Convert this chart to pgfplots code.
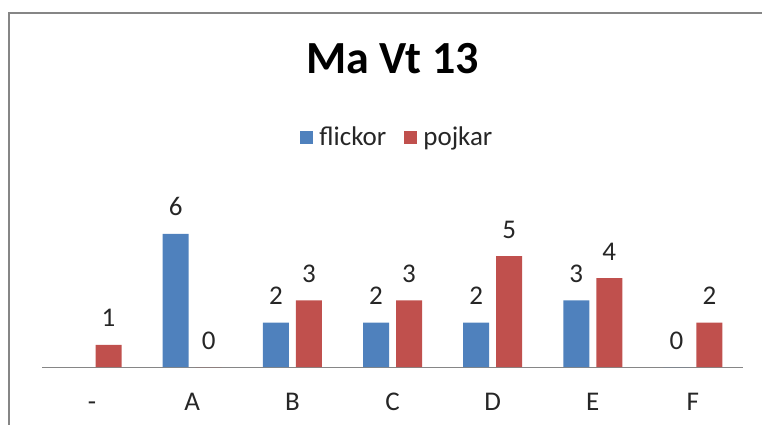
\documentclass[border=0pt]{standalone}
\usepackage{pgfplots}
\pgfplotsset{compat=1.18}
\usepackage{fontspec}
\setmainfont{Carlito}
\definecolor{cblue}{HTML}{4F81BD}
\definecolor{cred}{HTML}{C0504D}
\definecolor{framec}{HTML}{868686}
\definecolor{txt}{HTML}{262626}
\begin{document}
\begin{tikzpicture}
\useasboundingbox (0pt,0pt) rectangle (762pt,424pt);
\draw[framec, line width=2pt] (9pt,-20pt) -- (9pt,411pt) -- (780pt,411pt);
\begin{axis}[
  at={(42pt,57pt)}, anchor=south west,
  scale only axis, width=701pt, height=155.4pt,
  xmin=-0.5, xmax=6.5, ymin=0, ymax=7,
  ybar, bar width=26pt,
  axis x line=bottom, axis y line=none,
  axis line style={framec, line width=1pt, -},
  xtick={0,...,6}, xticklabels={-,A,B,C,D,E,F},
  major tick length=0pt,
  x tick label style={font=\fontsize{27}{32}\selectfont, text=txt, anchor=base, yshift=-43pt},
  ytick=\empty,
  nodes near coords,
  nodes near coords style={font=\fontsize{27}{32}\selectfont, text=txt, anchor=base, yshift=18pt},
  /pgf/number format/assume math mode=true,
  legend style={at={(0.507,1.48)}, anchor=center, draw=none, legend columns=2,
    font=\fontsize{27}{32}\selectfont, text=txt,
    /tikz/every odd column/.append style={column sep=4pt},
    /tikz/every even column/.append style={column sep=16pt}},
  legend image code/.code={\fill[#1] (0pt,-6.5pt) rectangle (13pt,6.5pt);},
  clip=false,
]
\addplot[fill=cblue, draw=none, bar shift=-16.5pt] coordinates {(1,6)(2,2)(3,2)(4,2)(5,3)(6,0)};
\addplot[fill=cred, draw=none, bar shift=16.5pt] coordinates {(0,1)(1,0)(2,3)(3,3)(4,5)(5,4)(6,2)};
\legend{flickor,pojkar}
\node[font=\fontsize{46}{52}\selectfont\bfseries, anchor=base, text=black] at (axis description cs:0.5,1.892) {Ma Vt 13};
\end{axis}
\end{tikzpicture}
\end{document}
